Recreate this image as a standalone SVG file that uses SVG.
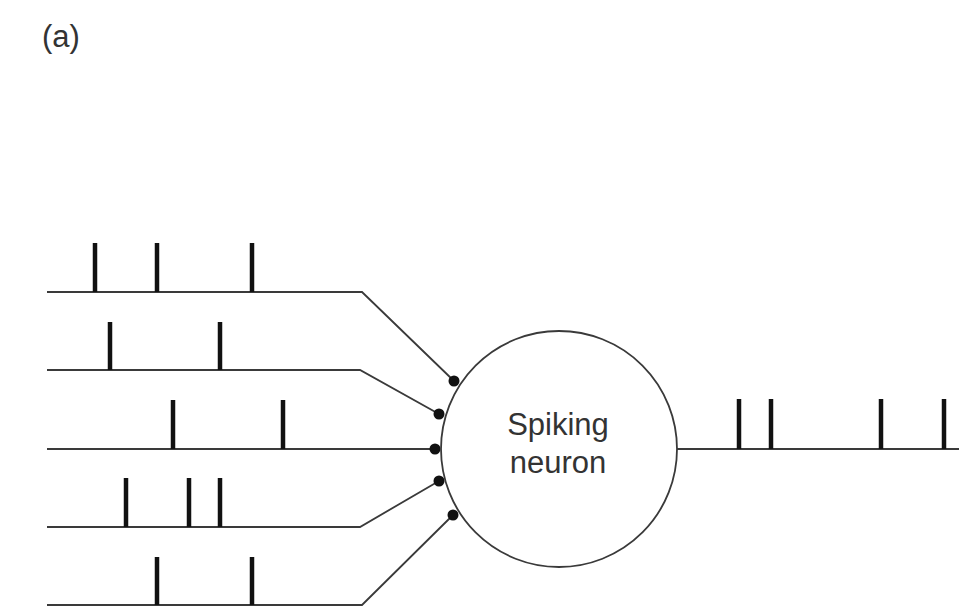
<svg xmlns="http://www.w3.org/2000/svg" width="959" height="612" viewBox="0 0 959 612">
  <style>
    .axon { fill: none; stroke: #3a3a3a; stroke-width: 1.8; }
    .spike { stroke: #111; stroke-width: 4.5; }
    .syn { fill: #111; }
    .label { font-family: "Liberation Sans", Arial, sans-serif; fill: #333; }
  </style>
  <rect width="959" height="612" fill="#fff"/>
  <text class="label" x="42" y="47" font-size="31">(a)</text>

  <!-- axon paths of the input trains and the output line -->
  <g id="connectors">
    <polyline class="axon" points="47,292 362,292 454,381"/>
    <polyline class="axon" points="47,370 360,370 439,414"/>
    <polyline class="axon" points="47,449 435,449"/>
    <polyline class="axon" points="47,527 360,527 439,481"/>
    <polyline class="axon" points="47,605 362,605 453,515"/>
    <line class="axon" x1="677" y1="449" x2="959" y2="449"/>
  </g>

  <g id="input1">
    <line class="spike" x1="95" y1="243" x2="95" y2="292"/>
    <line class="spike" x1="157" y1="243" x2="157" y2="292"/>
    <line class="spike" x1="252" y1="243" x2="252" y2="292"/>
    <circle class="syn" cx="454" cy="381" r="5.5"/>
  </g>
  <g id="input2">
    <line class="spike" x1="110" y1="322" x2="110" y2="370"/>
    <line class="spike" x1="220" y1="322" x2="220" y2="370"/>
    <circle class="syn" cx="439" cy="414" r="5.5"/>
  </g>
  <g id="input3">
    <line class="spike" x1="173" y1="400" x2="173" y2="449"/>
    <line class="spike" x1="283" y1="400" x2="283" y2="449"/>
    <circle class="syn" cx="435" cy="449" r="5.5"/>
  </g>
  <g id="input4">
    <line class="spike" x1="126" y1="478" x2="126" y2="527"/>
    <line class="spike" x1="189" y1="478" x2="189" y2="527"/>
    <line class="spike" x1="220" y1="478" x2="220" y2="527"/>
    <circle class="syn" cx="439" cy="481" r="5.5"/>
  </g>
  <g id="input5">
    <line class="spike" x1="157" y1="557" x2="157" y2="605"/>
    <line class="spike" x1="252" y1="557" x2="252" y2="605"/>
    <circle class="syn" cx="453" cy="515" r="5.5"/>
  </g>

  <g id="neuron">
    <circle cx="559" cy="449" r="118" fill="#fff" stroke="#3a3a3a" stroke-width="1.8"/>
    <text class="label" x="558" y="435" font-size="31" text-anchor="middle">Spiking</text>
    <text class="label" x="558" y="473" font-size="31" text-anchor="middle">neuron</text>
  </g>

  <g id="output">
    <line class="spike" x1="739" y1="399" x2="739" y2="449"/>
    <line class="spike" x1="771" y1="399" x2="771" y2="449"/>
    <line class="spike" x1="881" y1="399" x2="881" y2="449"/>
    <line class="spike" x1="944" y1="399" x2="944" y2="449"/>
  </g>
</svg>
